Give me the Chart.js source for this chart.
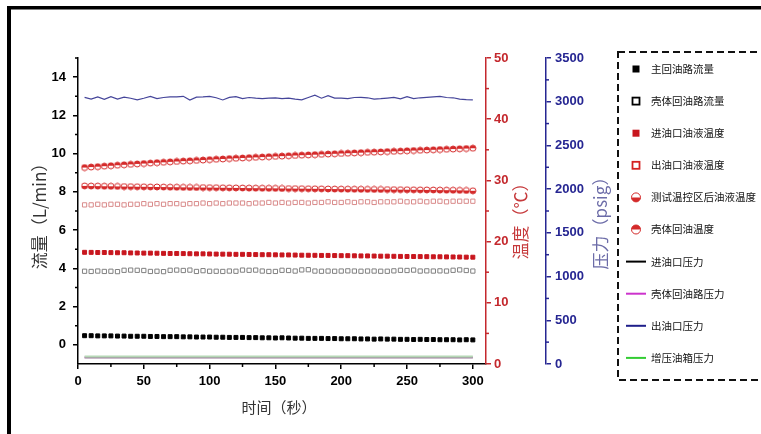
<!DOCTYPE html>
<html>
<head>
<meta charset="utf-8">
<script src="https://cdn.jsdelivr.net/npm/chart.js@4/dist/chart.umd.min.js"></script>
<style>
  html, body { margin: 0; padding: 0; background: #fff; }
  canvas { display: block; }
</style>
</head>
<body>
<canvas id="c" width="761" height="434"></canvas>
<script>
// 时间（秒）
const seconds = [5,10,15,20,25,30,35,40,45,50,55,60,65,70,75,80,85,90,95,100,
  105,110,115,120,125,130,135,140,145,150,155,160,165,170,175,180,185,190,195,200,
  205,210,215,220,225,230,235,240,245,250,255,260,265,270,275,280,285,290,295,300];

// 流量 (L/min)
const mainReturnFlow = [0.48,0.48,0.47,0.47,0.47,0.46,0.46,0.45,0.45,0.45,
  0.44,0.44,0.43,0.43,0.43,0.42,0.42,0.41,0.41,0.41,
  0.40,0.40,0.39,0.39,0.39,0.38,0.38,0.37,0.37,0.36,
  0.37,0.36,0.35,0.35,0.34,0.34,0.34,0.33,0.33,0.32,
  0.32,0.32,0.31,0.31,0.30,0.31,0.30,0.30,0.29,0.29,
  0.28,0.29,0.28,0.28,0.27,0.27,0.27,0.26,0.27,0.26];
const caseReturnFlow = [3.85,3.84,3.86,3.84,3.85,3.83,3.90,3.91,3.90,3.89,
  3.84,3.85,3.83,3.90,3.91,3.89,3.91,3.84,3.88,3.85,
  3.85,3.84,3.86,3.85,3.91,3.90,3.91,3.86,3.84,3.84,
  3.90,3.89,3.86,3.92,3.93,3.86,3.85,3.86,3.85,3.86,
  3.87,3.86,3.85,3.86,3.86,3.85,3.85,3.87,3.90,3.89,
  3.91,3.86,3.87,3.86,3.87,3.86,3.90,3.92,3.89,3.86];

// 温度 (℃)
const inletOilTemp = [18.25,18.24,18.22,18.22,18.20,18.18,18.18,18.15,18.14,18.12,
  18.12,18.10,18.08,18.06,18.06,18.04,18.02,18.00,18.00,17.98,
  17.96,17.95,17.94,17.92,17.92,17.90,17.88,17.86,17.86,17.84,
  17.82,17.82,17.80,17.78,17.77,17.76,17.74,17.74,17.72,17.70,
  17.70,17.68,17.66,17.66,17.64,17.62,17.62,17.60,17.58,17.57,
  17.56,17.55,17.54,17.52,17.52,17.50,17.49,17.48,17.46,17.45];
const outletOilTemp = [26.0,26.0,26.1,26.0,26.1,26.1,26.0,26.1,26.1,26.2,
  26.1,26.2,26.1,26.2,26.2,26.1,26.2,26.2,26.3,26.2,
  26.3,26.2,26.3,26.3,26.3,26.2,26.3,26.3,26.4,26.3,
  26.4,26.3,26.4,26.4,26.3,26.4,26.4,26.5,26.4,26.4,
  26.5,26.4,26.5,26.5,26.4,26.5,26.5,26.5,26.6,26.5,
  26.5,26.6,26.5,26.6,26.6,26.5,26.6,26.6,26.6,26.6];
const testZoneTemp = [29.10,29.08,29.07,29.05,29.04,29.02,29.00,28.99,28.97,28.96,
  28.94,28.93,28.92,28.90,28.89,28.87,28.86,28.85,28.83,28.82,
  28.81,28.79,28.78,28.77,28.76,28.74,28.73,28.72,28.71,28.70,
  28.68,28.67,28.66,28.65,28.64,28.63,28.62,28.60,28.59,28.58,
  28.57,28.56,28.55,28.54,28.53,28.52,28.51,28.50,28.49,28.48,
  28.47,28.46,28.45,28.44,28.42,28.41,28.40,28.38,28.35,28.30];
const shellReturnTemp = [32.10,32.18,32.25,32.33,32.40,32.48,32.55,32.62,32.70,32.76,
  32.83,32.90,32.96,33.03,33.09,33.15,33.21,33.27,33.33,33.39,
  33.45,33.50,33.56,33.61,33.67,33.72,33.77,33.82,33.87,33.92,
  33.97,34.02,34.07,34.12,34.17,34.21,34.26,34.31,34.35,34.40,
  34.44,34.49,34.53,34.58,34.62,34.66,34.71,34.75,34.79,34.84,
  34.88,34.92,34.96,35.00,35.04,35.08,35.13,35.17,35.21,35.26];

// 压力 (psig)
const inletPressure = [74,74,75,74,74,74,75,74,74,74,74,74,75,74,74,74,74,74,75,74,
  74,74,74,75,74,74,74,74,74,75,74,74,74,74,75,74,74,74,74,74,
  75,74,74,74,74,74,75,74,74,74,74,74,75,74,74,74,74,74,74,74];
const caseReturnPressure = [73,73,74,73,73,73,74,73,73,73,73,73,74,73,73,73,73,73,74,73,
  73,73,73,74,73,73,73,73,73,74,73,73,73,73,74,73,73,73,73,73,
  74,73,73,73,73,73,74,73,73,73,73,73,74,73,73,73,73,73,73,73];
const outletPressure = [3050,3030,3055,3028,3058,3030,3052,3040,3022,3040,
  3060,3035,3048,3055,3055,3062,3020,3052,3055,3060,
  3045,3020,3050,3058,3035,3048,3040,3036,3040,3045,
  3036,3040,3030,3022,3048,3075,3040,3070,3042,3040,
  3035,3048,3050,3045,3030,3035,3042,3050,3032,3058,
  3035,3045,3050,3055,3060,3048,3045,3030,3025,3022];
const boostTankPressure = [88,88,89,88,88,88,88,89,88,88,88,88,88,89,88,88,88,88,88,88,
  89,88,88,88,88,88,89,88,88,88,88,88,88,89,88,88,88,88,88,88,
  89,88,88,88,88,88,88,89,88,88,88,88,88,88,89,88,88,88,88,88];

// 刻度
const timeTicks = [0, 50, 100, 150, 200, 250, 300];
const flowTicks = [0, 2, 4, 6, 8, 10, 12, 14];
const tempTicks = [0, 10, 20, 30, 40, 50];
const pressureTicks = [0, 500, 1000, 1500, 2000, 2500, 3000, 3500];

const RED = '#c4282d';
const BLUE = '#262692';
const TICK_FONT = { family: '"Liberation Sans", Arial, sans-serif', size: 13, weight: 'bold' };
const CJK = '"Noto Sans CJK SC", "Noto Sans", sans-serif';

function pts(values) { return values.map((v, i) => ({ x: seconds[i], y: v })); }

// small half-filled disc used as a marker
function halfDisc(ctx, x, y, r, color, fillBottom) {
  ctx.save();
  ctx.beginPath(); ctx.arc(x, y, r, 0, Math.PI * 2); ctx.fillStyle = '#fff'; ctx.fill();
  ctx.beginPath();
  if (fillBottom) ctx.arc(x, y, r, 0, Math.PI); else ctx.arc(x, y, r, Math.PI, Math.PI * 2);
  ctx.closePath(); ctx.fillStyle = color; ctx.fill();
  ctx.beginPath(); ctx.arc(x, y, r, 0, Math.PI * 2);
  ctx.lineWidth = 1; ctx.strokeStyle = color; ctx.stroke();
  ctx.restore();
}
function discMarker(color, fillBottom) {
  const c = document.createElement('canvas');
  c.width = 8; c.height = 8;
  halfDisc(c.getContext('2d'), 4, 4, 3, color, fillBottom);
  return c;
}

const datasets = [
  { label: '主回油路流量', data: pts(mainReturnFlow), yAxisID: 'yFlow', showLine: false,
    pointStyle: 'rect', pointRadius: 2.8, borderWidth: 1, borderColor: '#000', backgroundColor: '#000', order: 3 },
  { label: '壳体回油路流量', data: pts(caseReturnFlow), yAxisID: 'yFlow', showLine: false,
    pointStyle: 'rect', pointRadius: 3, borderWidth: 1, borderColor: '#808080', backgroundColor: '#fff',
    swatch: '#000', order: 3 },
  { label: '进油口油液温度', data: pts(inletOilTemp), yAxisID: 'yTemp', showLine: false,
    pointStyle: 'rect', pointRadius: 2.8, borderWidth: 1, borderColor: '#c8161e', backgroundColor: '#c8161e', order: 3 },
  { label: '出油口油液温度', data: pts(outletOilTemp), yAxisID: 'yTemp', showLine: false,
    pointStyle: 'rect', pointRadius: 3, borderWidth: 1, borderColor: '#d98a8a', backgroundColor: '#fff',
    swatch: '#d42020', order: 3 },
  { label: '测试温控区后油液温度', data: pts(testZoneTemp), yAxisID: 'yTemp', showLine: false,
    pointStyle: discMarker('#d42a2a', true), half: 'bottom', borderColor: '#d42a2a', order: 3 },
  { label: '壳体回油温度', data: pts(shellReturnTemp), yAxisID: 'yTemp', showLine: false,
    pointStyle: discMarker('#d42a2a', false), half: 'top', borderColor: '#d42a2a', order: 3 },
  { label: '进油口压力', data: pts(inletPressure), yAxisID: 'yPress', showLine: true, pointRadius: 0,
    borderColor: '#a6aaa6', borderWidth: 2, swatch: '#000', order: 2 },
  { label: '壳体回油路压力', data: pts(caseReturnPressure), yAxisID: 'yPress', showLine: true, pointRadius: 0,
    borderColor: '#cc33cc', borderWidth: 1.5, swatch: '#cc33cc', order: 4 },
  { label: '出油口压力', data: pts(outletPressure), yAxisID: 'yPress', showLine: true, pointRadius: 0,
    borderColor: '#45459a', borderWidth: 1.2, swatch: '#1f1f8a', order: 1 },
  { label: '增压油箱压力', data: pts(boostTankPressure), yAxisID: 'yPress', showLine: true, pointRadius: 0,
    borderColor: '#b6d8b6', borderWidth: 1.5, swatch: '#33cc33', order: 1 }
];

function fixedTicks(list) {
  return s => { s.ticks = list.map(v => ({ value: v })); };
}
function axis(color, extra) {
  return Object.assign({
    type: 'linear',
    grid: { drawOnChartArea: false, drawTicks: true, tickLength: 5, color: color, lineWidth: 1.5 },
    border: { display: true, color: color, width: 1.5 },
    title: { display: false }
  }, extra);
}
function tickOpts(color, padding) {
  return { font: TICK_FONT, color: color, padding: padding, autoSkip: false, maxRotation: 0,
           callback: v => String(v) };
}

// minor ticks, axis titles, frame and legend
const decor = {
  id: 'decor',
  beforeDraw(chart) {
    const ctx = chart.ctx;
    ctx.save(); ctx.fillStyle = '#fff'; ctx.fillRect(0, 0, chart.width, chart.height); ctx.restore();
  },
  afterDraw(chart) {
    const ctx = chart.ctx;
    const s = chart.scales;
    ctx.save();
    ctx.lineWidth = 1.5;

    const minor = (scale, values, color) => {
      ctx.strokeStyle = color;
      values.forEach(v => {
        const p = scale.getPixelForValue(v);
        ctx.beginPath();
        if (scale.isHorizontal()) { ctx.moveTo(p, scale.top); ctx.lineTo(p, scale.top + 3); }
        else if (scale.position === 'left') { ctx.moveTo(scale.right, p); ctx.lineTo(scale.right - 3, p); }
        else { ctx.moveTo(scale.left, p); ctx.lineTo(scale.left + 3, p); }
        ctx.stroke();
      });
    };
    minor(s.x, [25, 75, 125, 175, 225, 275], '#000');
    minor(s.yFlow, [1, 3, 5, 7, 9, 11, 13, 15], '#000');
    minor(s.yTemp, [5, 15, 25, 35, 45], RED);
    minor(s.yPress, [250, 750, 1250, 1750, 2250, 2750, 3250], BLUE);

    const vTitle = (text, x, y, color) => {
      ctx.save();
      ctx.translate(x, y); ctx.rotate(-Math.PI / 2);
      ctx.font = '17px ' + CJK; ctx.fillStyle = color;
      ctx.textAlign = 'center'; ctx.textBaseline = 'middle';
      ctx.fillText(text, 0, 0);
      ctx.restore();
    };
    vTitle('流量（L/min）', 40, 212, '#333');
    vTitle('温度（℃）', 521, 217, '#c63a3c');
    vTitle('压力（psig）', 601, 219, '#6c6ca8');

    ctx.font = '15px ' + CJK; ctx.fillStyle = '#333';
    ctx.textAlign = 'center'; ctx.textBaseline = 'middle';
    ctx.fillText('时间（秒）', 279, 407);

    // outer frame
    ctx.fillStyle = '#000';
    ctx.fillRect(7, 6, chart.width - 7, 3.5);
    ctx.fillRect(7, 6, 4, chart.height - 6);

    // legend
    ctx.setLineDash([7, 4]); ctx.lineWidth = 2; ctx.strokeStyle = '#111';
    ctx.strokeRect(618, 52, 170, 328);
    ctx.setLineDash([]);
    ctx.font = '10.5px ' + CJK; ctx.textAlign = 'left'; ctx.textBaseline = 'middle';
    chart.data.datasets.forEach((ds, i) => {
      const y = 69 + i * 32.1;
      const cx = 636;
      const col = ds.swatch || ds.borderColor;
      if (ds.showLine) {
        ctx.strokeStyle = col; ctx.lineWidth = 2;
        ctx.beginPath(); ctx.moveTo(626, y); ctx.lineTo(646, y); ctx.stroke();
      } else if (ds.half) {
        halfDisc(ctx, cx, y, 4.5, ds.borderColor, ds.half === 'bottom');
      } else if (ds.backgroundColor === '#fff') {
        ctx.strokeStyle = col; ctx.lineWidth = 1.8;
        ctx.strokeRect(cx - 3.5, y - 3.5, 7, 7);
      } else {
        ctx.fillStyle = ds.backgroundColor;
        ctx.fillRect(cx - 3.5, y - 3.5, 7, 7);
      }
      ctx.fillStyle = '#111';
      ctx.fillText(ds.label, 651, y);
    });
    ctx.restore();
  }
};

new Chart(document.getElementById('c'), {
  type: 'scatter',
  data: { datasets },
  options: {
    responsive: false,
    animation: false,
    devicePixelRatio: 1,
    layout: { padding: { left: 0, right: 145, top: 58, bottom: 10 } },
    plugins: { legend: { display: false }, tooltip: { enabled: false } },
    scales: {
      x: axis('#000', {
        position: 'bottom', min: 0, max: 310,
        afterBuildTicks: fixedTicks(timeTicks),
        afterFit: sc => { sc.height = 60; sc.paddingLeft = 0; sc.paddingRight = 0; },
        ticks: tickOpts('#000', 5)
      }),
      yFlow: axis('#000', {
        position: 'left', min: -1, max: 15,
        afterBuildTicks: fixedTicks(flowTicks),
        afterFit: sc => { sc.width = 78; sc.paddingTop = 0; sc.paddingBottom = 0; },
        ticks: tickOpts('#000', 7)
      }),
      yTemp: axis(RED, {
        position: 'right', min: 0, max: 50, weight: 0,
        afterBuildTicks: fixedTicks(tempTicks),
        afterFit: sc => { sc.width = 60; sc.paddingTop = 0; sc.paddingBottom = 0; },
        ticks: tickOpts(RED, 3)
      }),
      yPress: axis(BLUE, {
        position: 'right', min: 0, max: 3500, weight: 1,
        afterBuildTicks: fixedTicks(pressureTicks),
        afterFit: sc => { sc.width = 70; sc.paddingTop = 0; sc.paddingBottom = 0; },
        ticks: tickOpts(BLUE, 4)
      })
    }
  },
  plugins: [decor]
});
</script>
</body>
</html>
